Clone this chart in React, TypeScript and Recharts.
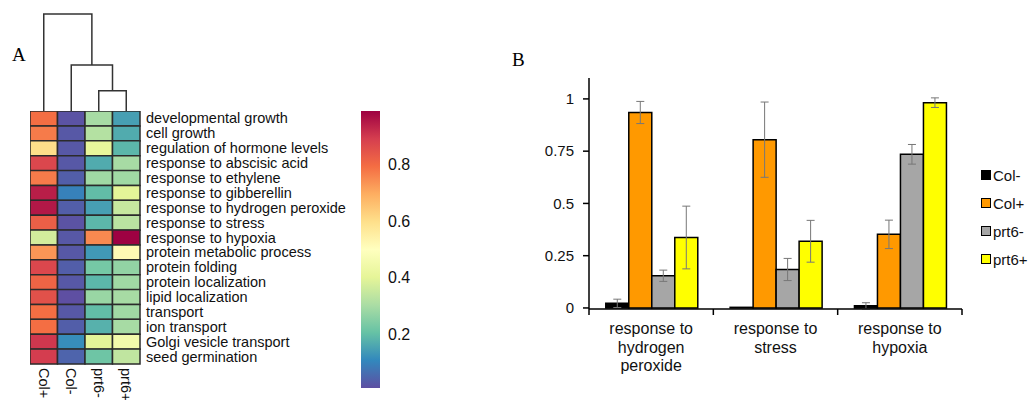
import React from 'react';
import { BarChart, Bar, XAxis, YAxis, Cell, ErrorBar, Legend, ScatterChart, Scatter } from 'recharts';

const FONT = '"Liberation Sans", Arial, sans-serif';
const SERIF = '"Liberation Serif", "Times New Roman", serif';

// ---- Panel A: heatmap ----
const samples = ['Col+', 'Col-', 'prt6-', 'prt6+'];
const goTerms = [
  'developmental growth',
  'cell growth',
  'regulation of hormone levels',
  'response to abscisic acid',
  'response to ethylene',
  'response to gibberellin',
  'response to hydrogen peroxide',
  'response to stress',
  'response to hypoxia',
  'protein metabolic process',
  'protein folding',
  'protein localization',
  'lipid localization',
  'transport',
  'ion transport',
  'Golgi vesicle transport',
  'seed germination',
];
const colPlus = [0.79, 0.77, 0.6, 0.87, 0.77, 0.94, 0.95, 0.82, 0.37, 0.73, 0.87, 0.81, 0.85, 0.79, 0.79, 0.9, 0.89];
const colMinus = [0.02, 0.03, 0.03, 0.03, 0.04, 0.1, 0.04, 0.02, 0.03, 0.03, 0.04, 0.03, 0.01, 0.03, 0.04, 0.12, 0.05];
const prt6Minus = [0.3, 0.32, 0.41, 0.17, 0.29, 0.2, 0.15, 0.19, 0.75, 0.14, 0.23, 0.19, 0.28, 0.2, 0.18, 0.4, 0.22];
const prt6Plus = [0.15, 0.17, 0.19, 0.3, 0.29, 0.4, 0.35, 0.33, 0.99, 0.52, 0.27, 0.29, 0.3, 0.29, 0.3, 0.45, 0.34];
const heatValues: Record<string, number[]> = { 'Col+': colPlus, 'Col-': colMinus, 'prt6-': prt6Minus, 'prt6+': prt6Plus };

const colorMin = 0.014;
const colorMax = 0.986;
const colorbarTicks = [0.2, 0.4, 0.6, 0.8];

// dendrogram: a node is a sample name (leaf) or the index of an earlier merge
const merges: { left: string | number; right: string | number; height: number }[] = [
  { left: 'prt6-', right: 'prt6+', height: 0.21 },
  { left: 'Col-', right: 0, height: 0.475 },
  { left: 'Col+', right: 1, height: 1 },
];

// ---- Panel B: bar chart ----
const groups = ['response to\nhydrogen\nperoxide', 'response to\nstress', 'response to\nhypoxia'];
const colMinusB = [0.022, 0.003, 0.01];
const colPlusB = [0.935, 0.805, 0.352];
const prt6MinusB = [0.154, 0.184, 0.735];
const prt6PlusB = [0.337, 0.319, 0.982];
const colMinusErr = [0.02, 0, 0.015];
const colPlusErr = [0.053, 0.18, 0.068];
const prt6MinusErr = [0.027, 0.053, 0.047];
const prt6PlusErr = [0.15, 0.1, 0.023];
const yTicks = [0, 0.25, 0.5, 0.75, 1];

const barSeries = [
  { key: 'Col-', values: colMinusB, errors: colMinusErr, color: '#000000' },
  { key: 'Col+', values: colPlusB, errors: colPlusErr, color: '#FF9900' },
  { key: 'prt6-', values: prt6MinusB, errors: prt6MinusErr, color: '#A6A6A6' },
  { key: 'prt6+', values: prt6PlusB, errors: prt6PlusErr, color: '#FFFF00' },
];

// Spectral_r colour map
const SPECTRAL_R = ['#5e4fa2', '#3288bd', '#66c2a5', '#abdda4', '#e6f598', '#ffffbf', '#fee08b', '#fdae61', '#f46d43', '#d53e4f', '#9e0142'];

const hexRgb = (h: string) => [1, 3, 5].map(i => parseInt(h.slice(i, i + 2), 16));

function spectral(t: number) {
  const c = Math.max(0, Math.min(1, t)) * (SPECTRAL_R.length - 1);
  const i = Math.min(Math.floor(c), SPECTRAL_R.length - 2);
  const f = c - i;
  const a = hexRgb(SPECTRAL_R[i]);
  const b = hexRgb(SPECTRAL_R[i + 1]);
  const rgb = a.map((v, k) => Math.round(v + (b[k] - v) * f));
  return `rgb(${rgb.join(',')})`;
}

const norm = (v: number) => (v - colorMin) / (colorMax - colorMin);

const heatRows = goTerms.map(term => {
  const row: Record<string, any> = { term };
  samples.forEach(s => { row[s] = 1; });
  return row;
});

const nodePos = (n: string | number): { x: number; y: number } => {
  if (typeof n === 'string') return { x: samples.indexOf(n) + 0.5, y: 0 };
  const m = merges[n];
  return { x: (nodePos(m.left).x + nodePos(m.right).x) / 2, y: m.height };
};

const dendroPaths = merges.map(m => {
  const a = nodePos(m.left);
  const b = nodePos(m.right);
  return [
    { x: a.x, y: a.y },
    { x: a.x, y: m.height },
    { x: b.x, y: m.height },
    { x: b.x, y: b.y },
  ];
});

const barData = groups.map((g, i) => {
  const row: Record<string, any> = { group: g };
  barSeries.forEach(s => {
    row[s.key] = s.values[i];
    row[s.key + 'Err'] = s.errors[i];
  });
  return row;
});

const TermTick = ({ x, y, payload }: any) => (
  <text x={x - 2} y={y} dominantBaseline="central" fontSize={14.5} fontFamily={FONT} fill="#111">
    {payload.value}
  </text>
);

const SampleTick = ({ x, y, payload }: any) => (
  <text
    x={x}
    y={y}
    transform={`rotate(90, ${x}, ${y})`}
    dominantBaseline="central"
    fontSize={14.5}
    fontFamily={FONT}
    fill="#111"
  >
    {samples[Math.floor(payload.value)]}
  </text>
);

const ColorbarTick = ({ x, y, payload }: any) => (
  <text x={x} y={y} dominantBaseline="central" fontSize={16} fontFamily={FONT} fill="#111">
    {payload.value}
  </text>
);

const GroupTick = ({ x, y, payload, index }: any) => {
  const lines = String(payload.value).split('\n');
  const half = payload.offset;
  return (
    <g>
      {half ? <line x1={x - half} x2={x - half} y1={y} y2={y + 6} stroke="#000" strokeWidth={1.5} /> : null}
      {half && index === groups.length - 1 ? (
        <line x1={x + half} x2={x + half} y1={y} y2={y + 6} stroke="#000" strokeWidth={1.5} />
      ) : null}
      <text x={x} y={y + 25} textAnchor="middle" fontSize={16} fontFamily={FONT} fill="#111">
        {lines.map((l, i) => (
          <tspan key={i} x={x} dy={i === 0 ? 0 : 18.5}>{l}</tspan>
        ))}
      </text>
    </g>
  );
};

// legend kept in series order (Recharts sorts the payload by name)
const LegendBox = ({ payload }: any) => {
  const shown = new Set((payload || []).map((p: any) => p.value));
  return (
    <div>
      {barSeries.filter(s => shown.has(s.key)).map(s => (
        <div key={s.key} style={{ display: 'flex', alignItems: 'center', height: 28, fontFamily: FONT, fontSize: 15, color: '#111' }}>
          <span style={{ width: 8, height: 8, background: s.color, border: '1px solid #000', marginRight: 2 }} />
          {s.key}
        </div>
      ))}
    </div>
  );
};

export default function App() {
  return (
    <div style={{ position: 'relative', width: 1031, height: 400, background: '#fff', overflow: 'hidden' }}>
      <style>{'body { margin: 0; }'}</style>

      <div style={{ position: 'absolute', left: 12, top: 44, fontFamily: SERIF, fontSize: 19 }}>A</div>
      <div style={{ position: 'absolute', left: 512, top: 49, fontFamily: SERIF, fontSize: 19 }}>B</div>

      {/* dendrogram */}
      <div style={{ position: 'absolute', left: 30, top: 13 }}>
        <ScatterChart width={110} height={98} margin={{ top: 1, right: 0, bottom: 0, left: 0 }}>
          <XAxis type="number" dataKey="x" domain={[0, 4]} hide />
          <YAxis type="number" dataKey="y" domain={[0, 1]} hide />
          {dendroPaths.map((pts, i) => (
            <Scatter
              key={i}
              data={pts}
              line={{ stroke: '#333', strokeWidth: 1.5 }}
              shape={() => <g />}
              isAnimationActive={false}
            />
          ))}
        </ScatterChart>
      </div>

      {/* heatmap */}
      <div style={{ position: 'absolute', left: 30, top: 111 }}>
        <BarChart
          width={330}
          height={289}
          data={heatRows}
          layout="vertical"
          barCategoryGap={0}
          margin={{ top: 0, right: 0, bottom: 0, left: 0 }}
        >
          <XAxis
            type="number"
            domain={[0, 4]}
            ticks={[0.5, 1.5, 2.5, 3.5]}
            tick={<SampleTick />}
            tickLine={false}
            axisLine={false}
            tickSize={0}
            tickMargin={4}
            height={36}
            interval={0}
          />
          <YAxis
            type="category"
            dataKey="term"
            orientation="right"
            width={220}
            tick={<TermTick />}
            tickLine={false}
            axisLine={false}
            interval={0}
          />
          {samples.map(s => (
            <Bar key={s} dataKey={s} stackId="h" stroke="#2b2b2b" strokeWidth={1.5} isAnimationActive={false}>
              {goTerms.map((t, i) => (
                <Cell key={t} fill={spectral(norm(heatValues[s][i]))} />
              ))}
            </Bar>
          ))}
        </BarChart>
      </div>

      {/* colour bar */}
      <div style={{ position: 'absolute', left: 361, top: 111 }}>
        <BarChart
          width={60}
          height={277}
          data={[{ name: 'scale', range: [colorMin, colorMax] }]}
          barCategoryGap={0}
          margin={{ top: 0, right: 0, bottom: 0, left: 0 }}
        >
          <defs>
            <linearGradient id="spectralGrad" x1="0" y1="1" x2="0" y2="0">
              {SPECTRAL_R.map((c, i) => (
                <stop key={c} offset={`${(i / (SPECTRAL_R.length - 1)) * 100}%`} stopColor={c} />
              ))}
            </linearGradient>
          </defs>
          <XAxis dataKey="name" hide />
          <YAxis
            type="number"
            domain={[colorMin, colorMax]}
            ticks={colorbarTicks}
            orientation="right"
            width={41}
            tick={<ColorbarTick />}
            tickLine={false}
            axisLine={false}
            allowDataOverflow
          />
          <Bar dataKey="range" fill="url(#spectralGrad)" isAnimationActive={false} />
        </BarChart>
      </div>

      {/* panel B */}
      <div style={{ position: 'absolute', left: 529, top: 70 }}>
        <BarChart
          width={502}
          height={319}
          data={barData}
          barCategoryGap="13.5%"
          barGap={0}
          margin={{ top: 8, right: 69, bottom: 0, left: 0 }}
        >
          <XAxis
            dataKey="group"
            interval={0}
            height={80}
            tick={<GroupTick />}
            tickLine={false}
            tickSize={0}
            tickMargin={0}
            axisLine={{ stroke: '#000', strokeWidth: 1.5 }}
          />
          <YAxis
            type="number"
            domain={[0, 1.1]}
            ticks={yTicks}
            width={60}
            tickSize={6}
            tickMargin={9}
            tick={{ fontSize: 15, fontFamily: FONT, fill: '#111' }}
            tickLine={{ stroke: '#000', strokeWidth: 1.5 }}
            axisLine={{ stroke: '#000', strokeWidth: 1.5 }}
          />
          <Legend
            layout="vertical"
            align="center"
            verticalAlign="middle"
            content={<LegendBox />}
            wrapperStyle={{ left: 452, top: 91, width: 60 }}
          />
          {barSeries.map(s => (
            <Bar key={s.key} dataKey={s.key} name={s.key} fill={s.color} stroke="#000" strokeWidth={1.5} isAnimationActive={false}>
              <ErrorBar dataKey={s.key + 'Err'} stroke="#777" strokeWidth={1} width={4} />
            </Bar>
          ))}
        </BarChart>
      </div>
    </div>
  );
}
